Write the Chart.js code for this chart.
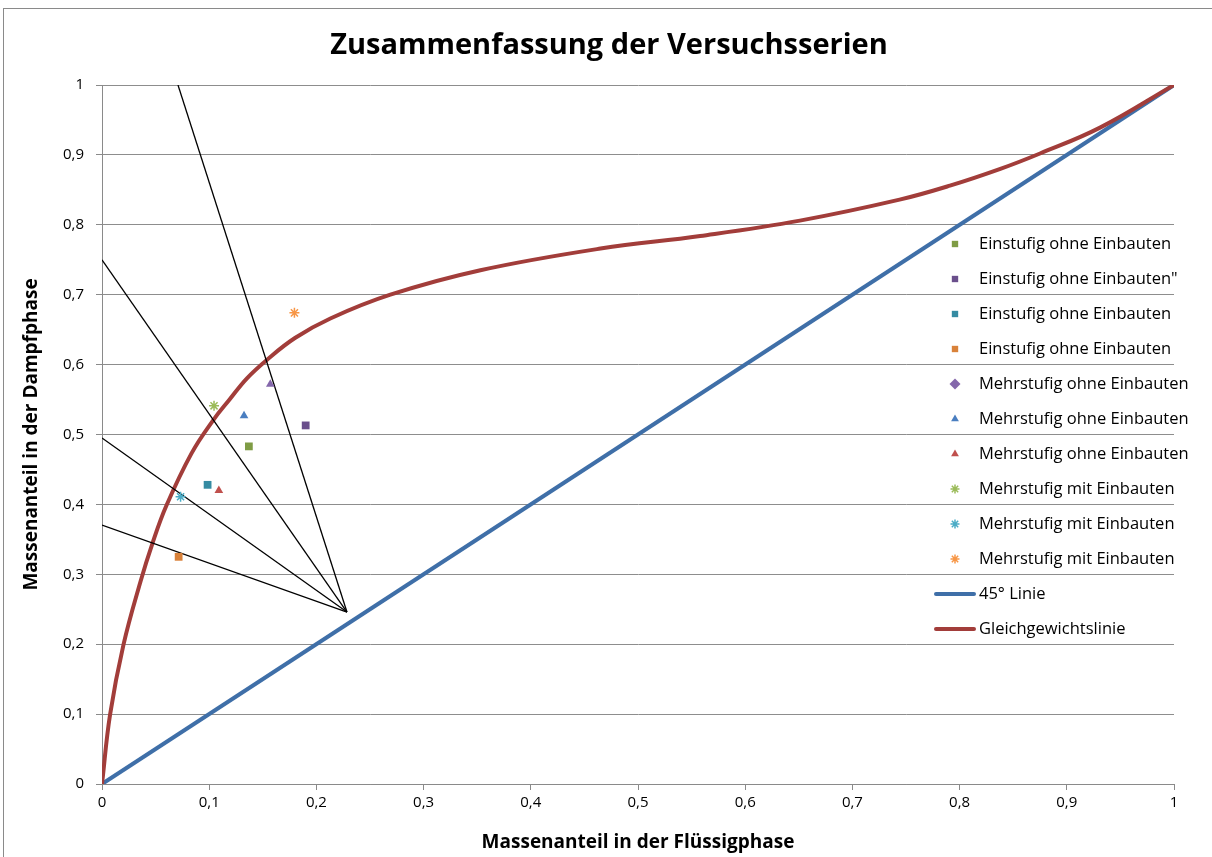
<!DOCTYPE html>
<html>
<head>
<meta charset="utf-8">
<script src="https://cdn.jsdelivr.net/npm/chart.js@4.4.1/dist/chart.umd.min.js"></script>
<style>
  body { margin: 0; background: #fff; }
  canvas { display: block; }
</style>
</head>
<body>
<canvas id="myChart" width="1212" height="857"></canvas>
<script>
// Messpunkte der Versuchsserien
const pointLabels = [
  'Einstufig ohne Einbauten',
  'Einstufig ohne Einbauten"',
  'Einstufig ohne Einbauten',
  'Einstufig ohne Einbauten',
  'Mehrstufig ohne Einbauten',
  'Mehrstufig ohne Einbauten',
  'Mehrstufig ohne Einbauten',
  'Mehrstufig mit Einbauten',
  'Mehrstufig mit Einbauten',
  'Mehrstufig mit Einbauten'
];
const pointX = [0.137, 0.190, 0.0985, 0.0715, 0.157, 0.1325, 0.109, 0.1045, 0.0733, 0.1795];
const pointY = [0.483, 0.513, 0.428, 0.325, 0.572, 0.527, 0.420, 0.541, 0.411, 0.674];
const pointColors = ['#7f9c45', '#6a4f8c', '#358ba2', '#d9823a', '#8467ab', '#4a7ec0', '#c0504d', '#9bbb59', '#4bacc6', '#f79646'];
const pointStyles = ['rect', 'rect', 'rect', 'rect', 'triangle', 'triangle', 'triangle', 'star', 'star', 'star'];
const legendStyles = ['rect', 'rect', 'rect', 'rect', 'rectRot', 'triangle', 'triangle', 'star', 'star', 'star'];

// 45° Linie
const diagX = [0, 1];
const diagY = [0, 1];

// Gleichgewichtslinie
const eqX = [0, 0.0075, 0.020, 0.036, 0.047, 0.060, 0.0835, 0.104, 0.119, 0.135, 0.154, 0.180, 0.213, 0.269, 0.353, 0.465, 0.558, 0.651, 0.744, 0.791, 0.838, 0.875, 0.931, 1];
const eqY = [0, 0.099, 0.199, 0.290, 0.344, 0.398, 0.473, 0.521, 0.550, 0.580, 0.607, 0.638, 0.666, 0.700, 0.735, 0.766, 0.784, 0.806, 0.836, 0.856, 0.880, 0.902, 0.939, 1];

// schwarze Hilfslinien (Start -> gemeinsamer Endpunkt)
const helperStartX = [0.0709, 0, 0, 0];
const helperStartY = [1, 0.75, 0.495, 0.3705];
const helperEnd = [0.2285, 0.246];

const tickLabels = ['0', '0,1', '0,2', '0,3', '0,4', '0,5', '0,6', '0,7', '0,8', '0,9', '1'];

const FONT = "'Open Sans', sans-serif";

const datasets = [];
pointLabels.forEach((label, i) => {
  datasets.push({
    label,
    data: [{ x: pointX[i], y: pointY[i] }],
    pointStyle: pointStyles[i],
    legendStyle: legendStyles[i],
    pointRadius: pointStyles[i] == 'rect' ? 5.5 : 5,
    backgroundColor: pointColors[i],
    borderColor: pointColors[i],
    borderWidth: pointStyles[i] == 'star' ? 1.5 : 0,
    showLine: false,
    order: 0
  });
});
datasets.push({
  label: '45° Linie',
  data: diagX.map((x, i) => ({ x, y: diagY[i] })),
  showLine: true,
  borderColor: '#3f6fa8',
  borderWidth: 4,
  pointRadius: 0,
  isLine: true,
  order: 3
});
datasets.push({
  label: 'Gleichgewichtslinie',
  data: eqX.map((x, i) => ({ x, y: eqY[i] })),
  showLine: true,
  tension: 0.4,
  borderColor: '#a23d3a',
  borderWidth: 4,
  pointRadius: 0,
  isLine: true,
  order: 2
});
helperStartX.forEach((x, i) => {
  datasets.push({
    label: '',
    data: [{ x, y: helperStartY[i] }, { x: helperEnd[0], y: helperEnd[1] }],
    showLine: true,
    borderColor: '#000',
    borderWidth: 1.3,
    pointRadius: 0,
    hidden_legend: true,
    order: 1
  });
});

const overlay = {
  id: 'overlay',
  beforeDraw(chart) {
    const ctx = chart.ctx;
    ctx.save();
    ctx.fillStyle = '#fff';
    ctx.fillRect(0, 0, chart.width, chart.height);
    ctx.strokeStyle = '#8a8a8a';
    ctx.lineWidth = 1;
    ctx.strokeRect(3.5, 8.5, 1400, 1000);
    ctx.restore();
  },
  afterDraw(chart) {
    const ctx = chart.ctx;
    ctx.save();
    // Titel
    ctx.fillStyle = '#000';
    ctx.font = "bold 29px " + FONT;
    ctx.textAlign = 'center';
    ctx.textBaseline = 'middle';
    ctx.fillText('Zusammenfassung der Versuchsserien', 609, 46);

    // Legende
    ctx.font = "16.5px " + FONT;
    ctx.textAlign = 'left';
    let row = 0;
    chart.data.datasets.forEach(ds => {
      if (ds.hidden_legend) return;
      const y = 244 + row * 35;
      if (ds.isLine) {
        ctx.strokeStyle = ds.borderColor;
        ctx.lineWidth = 4;
        ctx.lineCap = 'round';
        ctx.beginPath();
        ctx.moveTo(936, y);
        ctx.lineTo(974, y);
        ctx.stroke();
      } else {
        ctx.fillStyle = ds.backgroundColor;
        ctx.strokeStyle = ds.borderColor;
        ctx.lineWidth = ds.borderWidth || 0;
        const r = ds.legendStyle == 'rectRot' ? 5.5 : 4.5;
        Chart.helpers.drawPoint(ctx, { pointStyle: ds.legendStyle, radius: r, rotation: 0, borderWidth: ds.borderWidth }, 955, y);
      }
      ctx.fillStyle = '#000';
      ctx.fillText(ds.label, 979, y);
      row++;
    });
    ctx.restore();
  }
};

const ctx = document.getElementById('myChart');
const myChart = new Chart(ctx, {
  type: 'scatter',
  data: { datasets },
  options: {
    responsive: false,
    animation: false,
    layout: { padding: { left: 20, top: 85, right: 38, bottom: 3 } },
    plugins: {
      legend: { display: false },
      tooltip: { enabled: false },
      title: { display: false }
    },
    scales: {
      x: {
        type: 'linear',
        min: 0,
        max: 1,
        afterFit: s => { s.height = 70; },
        afterBuildTicks: s => { s.ticks = tickLabels.map((t, i) => ({ value: i / 10 })); },
        ticks: {
          color: '#000',
          font: { family: FONT, size: 15 },
          padding: 4,
          maxRotation: 0,
          callback: (v, i) => tickLabels[i]
        },
        grid: { color: 'rgba(0,0,0,0)', tickColor: '#8a8a8a', tickLength: 6, drawTicks: true },
        border: { display: true, color: '#8a8a8a', width: 1 },
        title: {
          display: true,
          text: 'Massenanteil in der Flüssigphase',
          color: '#000',
          font: { family: FONT, size: 19, weight: 'bold' },
          padding: 0
        }
      },
      y: {
        type: 'linear',
        min: 0,
        max: 1,
        afterFit: s => { s.width = 82; },
        afterBuildTicks: s => { s.ticks = tickLabels.map((t, i) => ({ value: i / 10 })); },
        ticks: {
          color: '#000',
          font: { family: FONT, size: 15 },
          padding: 12,
          callback: (v, i) => tickLabels[i]
        },
        grid: { color: '#8d8d8d', lineWidth: 1, tickColor: '#8a8a8a', tickLength: 6 },
        border: { display: true, color: '#8a8a8a', width: 1 },
        title: {
          display: true,
          text: 'Massenanteil in der Dampfphase',
          color: '#000',
          font: { family: FONT, size: 19, weight: 'bold' },
          padding: 0
        }
      }
    }
  },
  plugins: [overlay]
});
</script>
</body>
</html>
